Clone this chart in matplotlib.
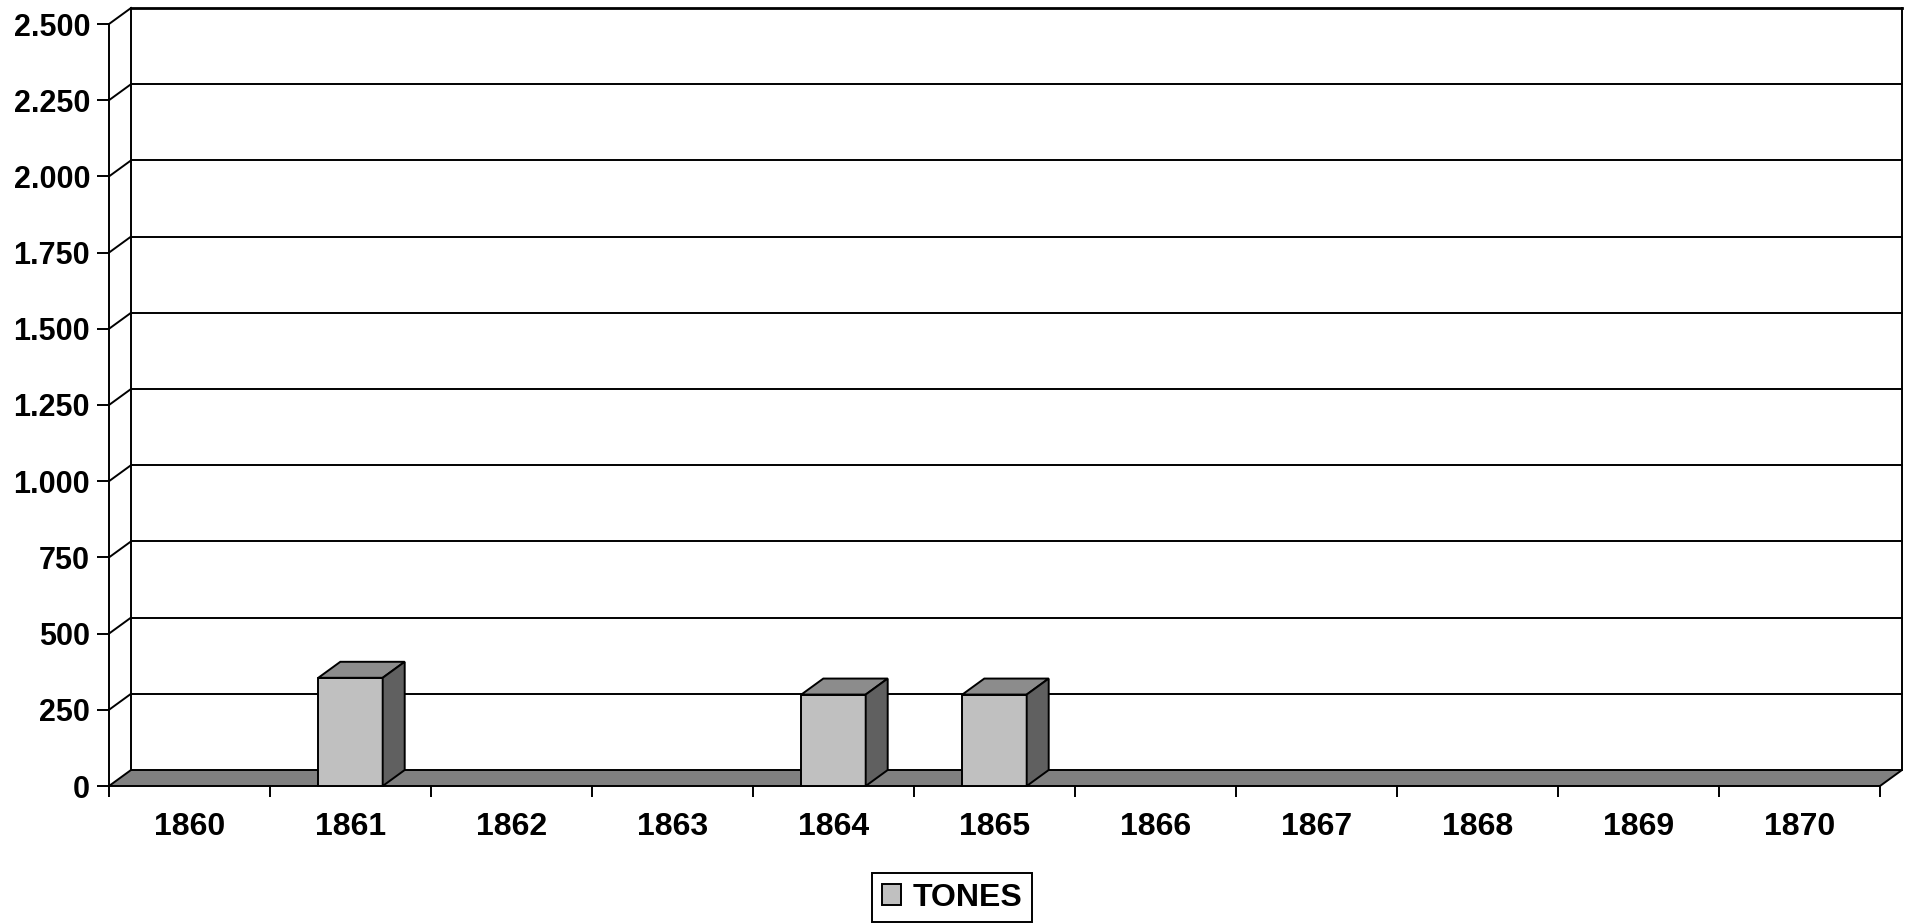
import matplotlib.pyplot as plt
from matplotlib.patches import Polygon, Rectangle, Patch

# data
years = ['1860', '1861', '1862', '1863', '1864', '1865',
         '1866', '1867', '1868', '1869', '1870']
tones = [0, 355, 0, 0, 300, 300, 0, 0, 0, 0, 0]
y_ticks = [0, 250, 500, 750, 1000, 1250, 1500, 1750, 2000, 2250, 2500]
y_labels = ['0', '250', '500', '750', '1.000', '1.250', '1.500',
            '1.750', '2.000', '2.250', '2.500']

plt.rcParams['font.family'] = ['Liberation Sans', 'DejaVu Sans']
plt.rcParams['font.weight'] = 'bold'

W, H = 1912, 923
fig = plt.figure(figsize=(W / 100, H / 100), dpi=100)

# front plane in pixels
left, right, bottom, top = 109, 1880, 786, 24
ax = fig.add_axes([left / W, 1 - bottom / H, (right - left) / W, (bottom - top) / H])
n = len(years)
ymax = y_ticks[-1]
ax.set_xlim(-0.5, n - 0.5)
ax.set_ylim(0, ymax)

# depth of the fake 3d box, pixels -> data units
ddx = 22 / ((right - left) / n)
ddy = 16 / ((bottom - top) / ymax)
lw = 1.4
x0, x1 = -0.5, n - 0.5

# back wall + side wall
for y in y_ticks[1:]:
    ax.plot([x0 + ddx, x1 + ddx], [y + ddy, y + ddy], color='k',
            lw=lw if y < ymax else 2.0, clip_on=False, zorder=1)
    ax.plot([x0, x0 + ddx], [y, y + ddy], color='k', lw=lw, clip_on=False, zorder=1)
ax.plot([x0 + ddx, x0 + ddx], [ddy, ymax + ddy], color='k', lw=lw, clip_on=False, zorder=1)
ax.plot([x1 + ddx, x1 + ddx], [ddy, ymax + ddy], color='k', lw=lw, clip_on=False, zorder=1)
ax.plot([x0, x0], [0, ymax], color='k', lw=lw, clip_on=False, zorder=1)

# floor
floor = Polygon([(x0, 0), (x1, 0), (x1 + ddx, ddy), (x0 + ddx, ddy)],
                closed=True, fc='#808080', ec='k', lw=lw, clip_on=False, zorder=2)
ax.add_patch(floor)

# bars
bw = 0.2
for i, v in enumerate(tones):
    if v <= 0:
        continue
    ax.add_patch(Rectangle((i - bw, 0), 2 * bw, v, fc='#C0C0C0', ec='k',
                           lw=lw, clip_on=False, zorder=3))
    ax.add_patch(Polygon([(i - bw, v), (i + bw, v), (i + bw + ddx, v + ddy),
                          (i - bw + ddx, v + ddy)], closed=True, fc='#8C8C8C',
                         ec='k', lw=lw, clip_on=False, zorder=3))
    ax.add_patch(Polygon([(i + bw, 0), (i + bw + ddx, ddy), (i + bw + ddx, v + ddy),
                          (i + bw, v)], closed=True, fc='#606060', ec='k',
                         lw=lw, clip_on=False, zorder=3))

for s in ax.spines.values():
    s.set_visible(False)

ax.set_yticks(y_ticks, y_labels)
ax.tick_params(axis='y', length=8.6, width=lw, pad=5, labelsize=22)

ax.set_xticks([i - 0.5 for i in range(n + 1)])
ax.set_xticklabels([])
ax.set_xticks(range(n), years, minor=True)
ax.tick_params(axis='x', which='major', length=8, width=lw)
ax.tick_params(axis='x', which='minor', length=0, pad=19, labelsize=23)

leg = ax.legend(handles=[Patch(fc='#C0C0C0', ec='k', lw=lw, label='TONES')],
                loc='upper center', bbox_to_anchor=(952 / W, 1 - 873 / H),
                bbox_transform=fig.transFigure, fancybox=False, edgecolor='k',
                framealpha=1, fontsize=23, handlelength=0.62, handleheight=0.62,
                handletextpad=0.35, borderpad=0.3, borderaxespad=0)
leg.get_frame().set_linewidth(lw)

fig.savefig('out.png', dpi=100)
